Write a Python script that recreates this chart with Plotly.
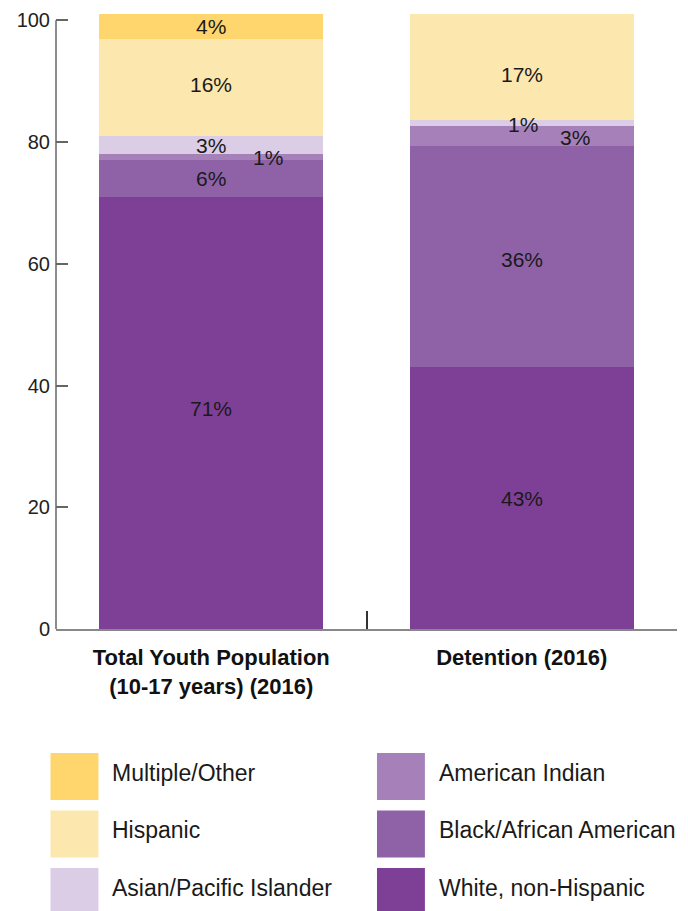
import plotly.graph_objects as go

categories = ["Total Youth Population<br>(10-17 years) (2016)", "Detention (2016)"]
groups = ["White, non-Hispanic", "Black/African American", "American Indian",
          "Asian/Pacific Islander", "Hispanic", "Multiple/Other"]
white = [71.0, 43.0]
black = [6.0, 36.4]
am_indian = [1.0, 3.3]
asian = [3.0, 0.9]
hispanic = [16.0, 17.4]
multiple = [4.0, 0.0]
colors = ["#7E3F97", "#8F62A8", "#A680B9", "#DCCDE6", "#FCE7AF", "#FFD66E"]
tick_vals = [0, 20, 40, 60, 80, 100]

series = [white, black, am_indian, asian, hispanic, multiple]

FONT = "Liberation Sans, Arial, sans-serif"
fig = go.Figure()
for name, vals, col in zip(groups, series, colors):
    fig.add_trace(go.Bar(x=categories, y=vals, name=name, marker_color=col,
                         marker_line_width=0, width=0.72, showlegend=False,
                         hoverinfo="skip"))

# segment labels (small segments nudged sideways so they stay readable)
shifts = {(0, 2): 57, (1, 2): 53, (1, 3): 1}
yshifts = {(0, 0): 4, (0, 4): 3, (1, 1): -3, (1, 2): -2, (1, 3): -2, (1, 4): -7}
for ci, cat in enumerate(categories):
    base = 0.0
    for si, vals in enumerate(series):
        v = vals[ci]
        if v > 0:
            fig.add_annotation(x=cat, y=base + v / 2, text=f"{round(v)}%",
                               showarrow=False, xshift=shifts.get((ci, si), 0),
                               yshift=yshifts.get((ci, si), 0),
                               font=dict(family=FONT, size=21, color="#1a1a1a"))
        base += v

W, H = 688, 911
L, R, T, B = 55.5, 10.5, 12.7, 282
pw, ph = W - L - R, H - T - B
ymax = 101.2

def px(xp):
    return (xp - L) / pw

def py(yp):
    return (H - B - yp) / ph

# legend (custom, large swatches)
leg_cols = [["Multiple/Other", "Hispanic", "Asian/Pacific Islander"],
            ["American Indian", "Black/African American", "White, non-Hispanic"]]
col_x = [50, 377]
row_y = [753, 810.5, 868]
for c, names in enumerate(leg_cols):
    for r, nm in enumerate(names):
        col = colors[groups.index(nm)]
        fig.add_shape(type="rect", xref="paper", yref="paper",
                      x0=px(col_x[c]), x1=px(col_x[c] + 48),
                      y0=py(row_y[r] + 47), y1=py(row_y[r]),
                      fillcolor=col, line_width=0)
        fig.add_annotation(xref="paper", yref="paper", x=px(col_x[c] + 60),
                           y=py(row_y[r] + 20), text=nm, showarrow=False,
                           xanchor="left", yanchor="middle",
                           font=dict(family=FONT, size=23, color="#1a1a1a"))

# y axis line only from 0 to 100
fig.add_shape(type="line", xref="paper", yref="y", x0=0, x1=0, y0=0, y1=100,
              line=dict(color="#666666", width=1.5))

fig.update_layout(
    width=W, height=H, barmode="stack", bargap=0.28,
    margin=dict(l=L, r=R, t=T, b=B, autoexpand=False),
    plot_bgcolor="white", paper_bgcolor="white",
    xaxis=dict(showline=True, linecolor="#888888", linewidth=2,
               ticks="inside", tickson="boundaries", ticklen=18,
               tickcolor="#333333", tickwidth=1.5, ticklabelstandoff=8,
               tickfont=dict(family="Liberation Sans Narrow, Arial Narrow, Liberation Sans, sans-serif",
                             size=22, color="#111111", weight="bold"),
               showgrid=False, zeroline=False),
    yaxis=dict(range=[0, ymax], tickvals=tick_vals, ticks="inside", ticklen=12,
               tickcolor="#666666", tickwidth=1.5, showline=False, showgrid=False,
               zeroline=False, ticklabelstandoff=5,
               tickfont=dict(family=FONT, size=20, color="#222222")),
)

fig.write_html("out.html")
